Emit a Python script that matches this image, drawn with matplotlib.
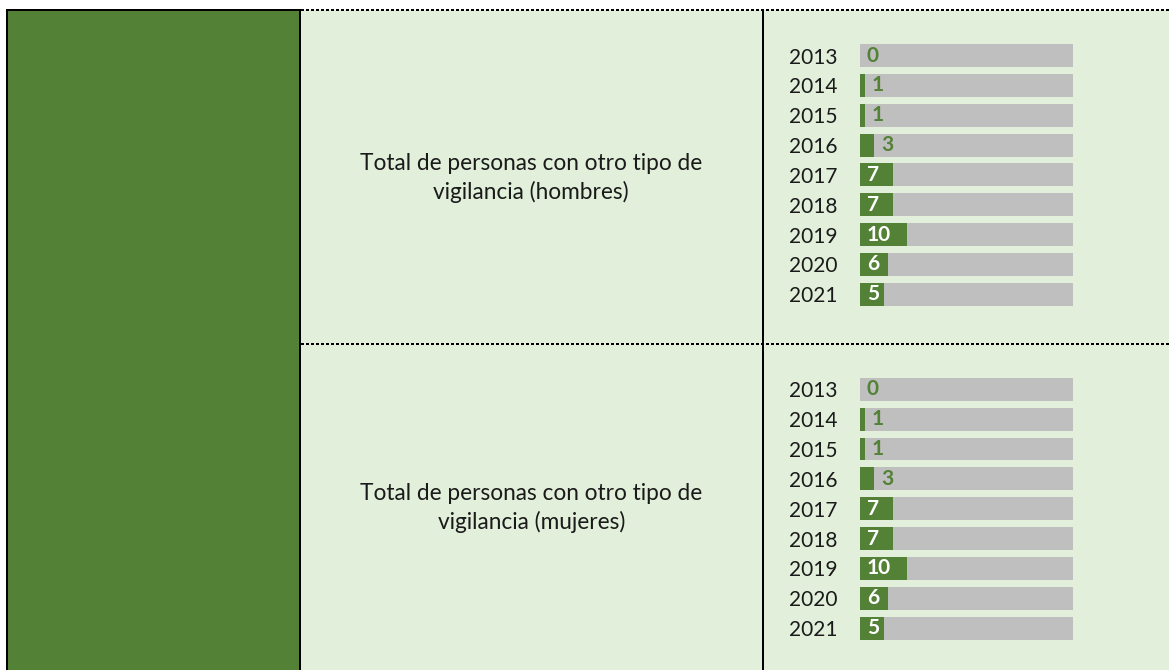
import matplotlib
matplotlib.use('Agg')
import matplotlib.pyplot as plt
from matplotlib.patches import Rectangle
from matplotlib.lines import Line2D

# ---- data ----
years = ['2013', '2014', '2015', '2016', '2017', '2018', '2019', '2020', '2021']
hombres = [0, 1, 1, 3, 7, 7, 10, 6, 5]
mujeres = [0, 1, 1, 3, 7, 7, 10, 6, 5]
scale_max = 45
row_labels = ['Total de personas con otro tipo de\nvigilancia (hombres)',
              'Total de personas con otro tipo de\nvigilancia (mujeres)']

# ---- style ----
DARK_GREEN = '#538135'
LIGHT_GREEN = '#E2EFDA'
GRAY = '#BFBFBF'
FONT = ['Lato', 'DejaVu Sans']
plt.rcParams['font.family'] = FONT

W, H = 1169, 670
fig = plt.figure(figsize=(W / 100, H / 100), dpi=100)
fig.patch.set_facecolor('white')

bg = fig.add_axes([0, 0, 1, 1])
bg.set_xlim(0, W)
bg.set_ylim(H, 0)
bg.axis('off')

LW = 1.44  # ~2px
TOP = 10
MID = 344
LEFT = 7
SPLIT1 = 299.5
SPLIT2 = 763

# cell fills
bg.add_patch(Rectangle((LEFT, TOP), SPLIT1 - LEFT, H - TOP + 5, facecolor=DARK_GREEN, edgecolor='none'))
bg.add_patch(Rectangle((SPLIT1, TOP), W - SPLIT1 + 5, H - TOP + 5, facecolor=LIGHT_GREEN, edgecolor='none'))

# solid borders
bg.add_line(Line2D([LEFT, LEFT], [TOP, H + 5], color='black', lw=LW, solid_capstyle='projecting'))
bg.add_line(Line2D([LEFT, SPLIT1], [TOP, TOP], color='black', lw=LW, solid_capstyle='projecting'))
bg.add_line(Line2D([SPLIT1, SPLIT1], [TOP, H + 5], color='black', lw=LW, solid_capstyle='projecting'))
bg.add_line(Line2D([SPLIT2, SPLIT2], [TOP, H + 5], color='black', lw=LW, solid_capstyle='projecting'))

# dashed borders
for yy in (TOP, MID):
    bg.add_line(Line2D([SPLIT1 + 1, W + 5], [yy, yy], color='black', lw=LW,
                       linestyle=(0, (1.5, 1.0)), dash_capstyle='butt'))

# row labels
cells = [(TOP, MID), (MID, H)]
for (y0, y1), lab in zip(cells, row_labels):
    bg.text((SPLIT1 + SPLIT2) / 2, (y0 + y1) / 2 + 1, lab, ha='center', va='center',
            fontsize=16.3, color='#1a1a1a', linespacing=1.43)

# bar charts
bar_x0 = 860
bar_w = 213
row_step = 29.85
first_centers = [55.5, 389.3]
series = [hombres, mujeres]

for fc, vals in zip(first_centers, series):
    top_px = fc - row_step / 2
    bot_px = top_px + row_step * len(years)
    ax = fig.add_axes([bar_x0 / W, 1 - bot_px / H, bar_w / W, (bot_px - top_px) / H])
    ax.set_facecolor('none')
    ypos = list(range(len(years)))
    ax.barh(ypos, [scale_max] * len(years), height=0.77, color=GRAY, edgecolor='none')
    ax.barh(ypos, vals, height=0.77, color=DARK_GREEN, edgecolor='none')
    ax.set_xlim(0, scale_max)
    ax.set_ylim(len(years) - 0.5, -0.5)
    ax.set_yticks(ypos)
    ax.set_yticklabels(years, fontsize=15, color='#1a1a1a')
    ax.tick_params(axis='y', length=0, pad=16.5)
    ax.set_xticks([])
    for s in ax.spines.values():
        s.set_visible(False)
    for i, v in enumerate(vals):
        if v >= 5:
            ax.annotate(str(v), xy=(0, i), xytext=(7, 0), textcoords='offset pixels',
                        ha='left', va='center', fontsize=15, fontweight='bold', color='white')
        else:
            ax.annotate(str(v), xy=(v, i), xytext=(7, 0), textcoords='offset pixels',
                        ha='left', va='center', fontsize=15, fontweight='bold', color=DARK_GREEN)

fig.savefig('out.png', dpi=100, facecolor='white')
